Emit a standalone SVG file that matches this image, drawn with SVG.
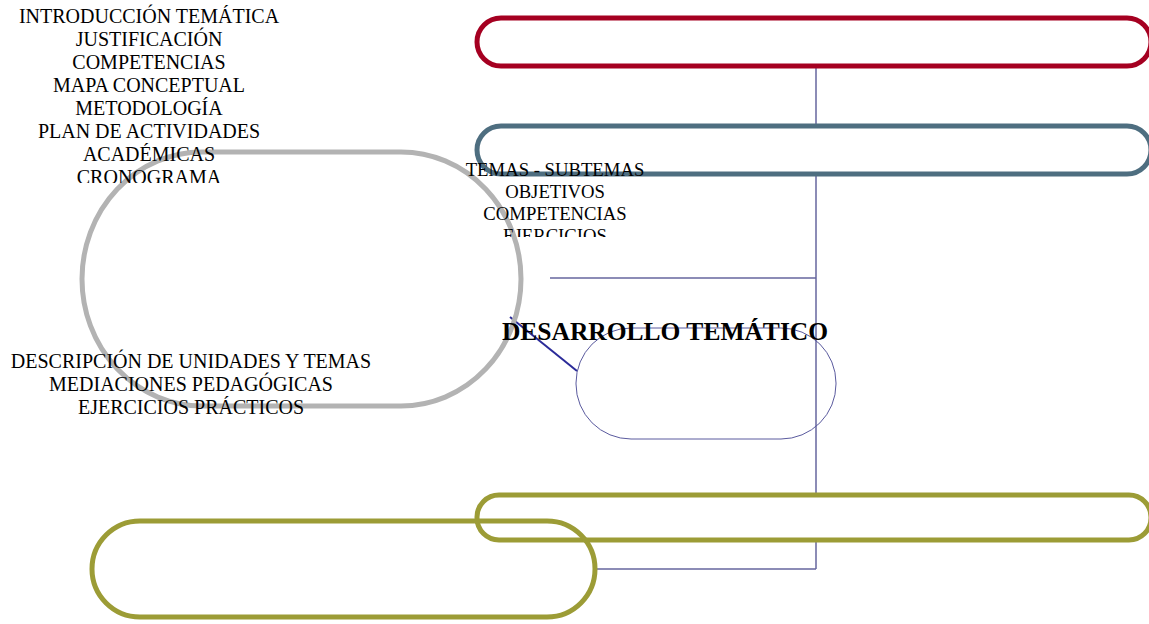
<svg xmlns="http://www.w3.org/2000/svg" width="1149" height="624" viewBox="0 0 1149 624">
<style>
.t{font-family:"Liberation Serif","Times New Roman",serif;font-size:20px;fill:#000;text-anchor:middle}
.s{font-size:18.7px}
.b{font-family:"Liberation Serif","Times New Roman",serif;font-size:25.5px;font-weight:bold;fill:#000;text-anchor:middle}
.c{stroke:#66669E;stroke-width:1.5;fill:none}
</style>
<defs>
<clipPath id="c1"><rect x="0" y="0" width="320" height="183"/></clipPath>
<clipPath id="c2"><rect x="440" y="150" width="240" height="87"/></clipPath>
</defs>
<g id="connectors">
<line class="c" x1="816" y1="66" x2="816" y2="569"/>
<line class="c" x1="550" y1="278" x2="816" y2="278"/>
<line class="c" x1="595" y1="569" x2="816" y2="569"/>
<line x1="510" y1="317" x2="577" y2="371" stroke="#2B2B99" stroke-width="2"/>
</g>
<g id="n-red"><rect x="477" y="18" width="674" height="48" rx="24" fill="#fff" stroke="#A50021" stroke-width="5"/></g>
<g id="n-blue"><rect x="477" y="126" width="674" height="48" rx="24" fill="#fff" stroke="#4E6E80" stroke-width="5"/></g>
<g id="n-gray"><rect x="82" y="152" width="439" height="254" rx="120" ry="127" fill="none" stroke="#B3B3B3" stroke-width="5"/></g>
<g id="n-small"><rect x="576" y="328" width="260" height="111" rx="55" fill="none" stroke="#5A5A9E" stroke-width="1"/></g>
<g id="n-olive1"><rect x="477" y="495" width="674" height="45" rx="22" fill="#fff" stroke="#9C9C36" stroke-width="5"/></g>
<g id="n-olive2"><rect x="92" y="521" width="503" height="96" rx="48" fill="none" stroke="#9C9C36" stroke-width="5"/></g>
<g id="texts">
<g clip-path="url(#c1)">
<text class="t" x="149" y="23">INTRODUCCIÓN TEMÁTICA</text>
<text class="t" x="149" y="46">JUSTIFICACIÓN</text>
<text class="t" x="149" y="69">COMPETENCIAS</text>
<text class="t" x="149" y="92">MAPA CONCEPTUAL</text>
<text class="t" x="149" y="115">METODOLOGÍA</text>
<text class="t" x="149" y="138">PLAN DE ACTIVIDADES</text>
<text class="t" x="149" y="161">ACADÉMICAS</text>
<text class="t" x="149" y="184">CRONOGRAMA</text>
</g>
<g clip-path="url(#c2)">
<text class="t s" x="555" y="176">TEMAS - SUBTEMAS</text>
<text class="t s" x="555" y="198">OBJETIVOS</text>
<text class="t s" x="555" y="220">COMPETENCIAS</text>
<text class="t s" x="555" y="242">EJERCICIOS</text>
</g>
<text class="b" x="665" y="340">DESARROLLO TEMÁTICO</text>
<text class="t" x="191" y="368">DESCRIPCIÓN DE UNIDADES Y TEMAS</text>
<text class="t" x="191" y="391">MEDIACIONES PEDAGÓGICAS</text>
<text class="t" x="191" y="414">EJERCICIOS PRÁCTICOS</text>
</g>
</svg>
